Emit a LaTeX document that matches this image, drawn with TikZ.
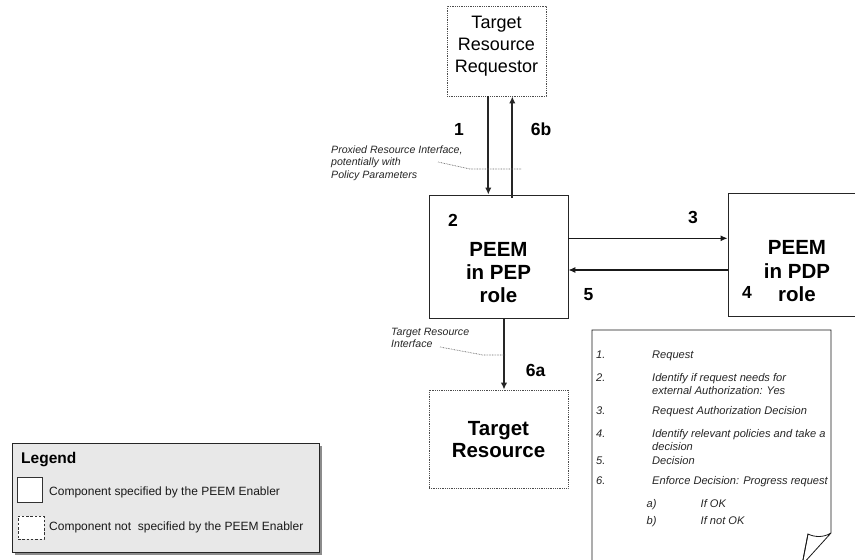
\documentclass[tikz,border=0pt]{standalone}
\usepackage{fontspec}
\setmainfont{Liberation Sans}
\usetikzlibrary{arrows.meta,shadows}
\begin{document}
\begin{tikzpicture}[x=1pt,y=-1pt,
  solidbox/.style={draw=black!85,line width=0.9pt,fill=white,inner sep=0pt},
  dotbox/.style={draw=black!70,line width=0.9pt,dash pattern=on 0.9pt off 0.9pt,fill=white,inner sep=0pt},
  arr/.style={draw=black!85,line width=1.7pt,-{Latex[length=7pt,width=6.5pt]}},
  harr/.style={draw=black!90,line width=1.1pt,-{Latex[length=7pt,width=6pt]}},
  leader/.style={draw=black!60,line width=0.7pt,dash pattern=on 0.7pt off 0.9pt},
  regtxt/.style={anchor=base,inner sep=0pt,font=\fontsize{18}{22}\selectfont},
  boldtxt/.style={anchor=base,inner sep=0pt,font=\fontsize{20.5}{23}\selectfont\bfseries},
  lbl/.style={anchor=base,inner sep=0pt,font=\fontsize{17.5}{20}\selectfont\bfseries},
  anno/.style={anchor=base west,inner sep=0pt,font=\fontsize{10.6}{12.5}\selectfont\itshape,text=black!85},
  notetxt/.style={anchor=base west,inner sep=0pt,font=\fontsize{11.1}{13}\selectfont\itshape,text=black!85},
  legtxt/.style={anchor=base west,inner sep=0pt,font=\fontsize{12}{14}\selectfont,text=black!90}
]
\useasboundingbox (0,0) rectangle (855,560);
\fill[white] (0,0) rectangle (855,560);
\clip (0,0) rectangle (855,560);

% boxes
\node[dotbox,minimum width=99pt,minimum height=90pt] (req) at (496.5,51) {};
\node[solidbox,minimum width=139pt,minimum height=123pt] (pep) at (498.5,256.5) {};
\node[solidbox,minimum width=134pt,minimum height=123pt] (pdp) at (795,254.5) {};
\node[dotbox,minimum width=139pt,minimum height=98pt] (tres) at (498.5,439) {};

% box texts
\node[regtxt] (req1) at (496.5,28.5) {Target};
\node[regtxt] (req2) at (496.5,50.5) {Resource};
\node[regtxt] (req3) at (496.5,72) {Requestor};

\node[boldtxt] (pep1) at (498.5,256) {PEEM};
\node[boldtxt] (pep2) at (498.5,279) {in PEP};
\node[boldtxt] (pep3) at (498.5,302) {role};

\node[boldtxt] (pdp1) at (797,254) {PEEM};
\node[boldtxt] (pdp2) at (797,278) {in PDP};
\node[boldtxt] (pdp3) at (797,301) {role};

\node[boldtxt] (tr1) at (498.5,435) {Target};
\node[boldtxt] (tr2) at (498.5,457) {Resource};

% connectors
\draw[arr] ([xshift=-8.2pt]req.south) -- ([xshift=-10.2pt]pep.north);
\draw[arr] ([xshift=13.8pt,yshift=-3pt]pep.north) -- ([xshift=15.8pt]req.south);
\draw[harr] ([yshift=18.2pt]pep.east) -- ([yshift=16.2pt]pdp.west);
\draw[harr] ([yshift=-15.5pt]pdp.west) -- ([yshift=-13.5pt]pep.east);
\draw[arr] ([xshift=5.5pt]pep.south) -- ([xshift=5.5pt]tres.north);

% step labels
\node[lbl] (l1) at (459,135) {1};
\node[lbl] (l6b) at (541,135) {6b};
\node[lbl] (l2) at (453,226) {2};
\node[lbl] (l3) at (693,223) {3};
\node[lbl] (l5) at (588.5,300) {5};
\node[lbl] (l4) at (747,298) {4};
\node[lbl] (l6a) at (535.5,376.5) {6a};

% annotations
\node[anno] (an1) at (331,153) {Proxied Resource Interface,};
\node[anno] (an2) at (331,165.5) {potentially with};
\node[anno] (an3) at (331,178) {Policy Parameters};
\coordinate (p1) at (438,162);
\coordinate (p2) at (470,169);
\coordinate (p3) at (522,169);
\draw[leader] (p1) -- (p2) -- (p3);

\node[anno] (an4) at (391,335.5) {Target Resource};
\node[anno] (an5) at (391,347.5) {Interface};
\coordinate (q1) at (440,347);
\coordinate (q2) at (483,355);
\coordinate (q3) at (505,355);
\draw[leader] (q1) -- (q2) -- (q3);

% note page
\draw[draw=black!90,line width=0.8pt,fill=white]
  (592,570) -- (592,330) -- (831,330) -- (831,533)
  .. controls (823,538) and (814,537) .. (808,534) -- (802,565) -- (831,533);
\draw[draw=black!90,line width=0.8pt] (808,534) -- (802,565);
\node[notetxt] (n1) at (596,358) {1.};
\node[notetxt] (n1t) at (652,358) {Request};
\node[notetxt] (n2) at (596,381) {2.};
\node[notetxt] (n2t) at (652,381) {Identify if request needs for};
\node[notetxt] (n2u) at (652,394) {external Authorization: Yes};
\node[notetxt] (n3) at (596,414) {3.};
\node[notetxt] (n3t) at (652,414) {Request Authorization Decision};
\node[notetxt] (n4) at (596,437.5) {4.};
\node[notetxt] (n4t) at (652,437.5) {Identify relevant policies and take a};
\node[notetxt] (n4u) at (652,450.5) {decision};
\node[notetxt] (n5) at (596,464) {5.};
\node[notetxt] (n5t) at (652,464) {Decision};
\node[notetxt] (n6) at (596,484) {6.};
\node[notetxt] (n6t) at (652,484) {Enforce Decision: Progress request};
\node[notetxt] (na) at (646.5,507) {a)};
\node[notetxt] (nat) at (700.5,507) {If OK};
\node[notetxt] (nb) at (646.5,524) {b)};
\node[notetxt] (nbt) at (700.5,524) {If not OK};

% legend
\node[draw=black!85,line width=0.8pt,fill=black!9,inner sep=0pt,
      minimum width=307pt,minimum height=109pt,
      drop shadow={shadow xshift=3pt,shadow yshift=-3pt,fill=black!45,opacity=1}]
      (legend) at (165.5,497.5) {};
\node[anchor=base west,inner sep=0pt,font=\fontsize{15.5}{18}\selectfont\bfseries] (legt) at (21,463) {Legend};
\node[draw=black!80,line width=0.8pt,fill=white,inner sep=0pt,minimum width=25pt,minimum height=25pt] (lsq1) at (29.5,489.5) {};
\node[legtxt] (lt1) at (49,495) {Component specified by the PEEM Enabler};
\node[draw=black!80,line width=0.8pt,dash pattern=on 2.5pt off 1.8pt,fill=white,inner sep=0pt,minimum width=26pt,minimum height=23pt] (lsq2) at (31,527.5) {};
\node[legtxt] (lt2) at (49,530) {Component not\ \ specified by the PEEM Enabler};
\end{tikzpicture}
\end{document}
